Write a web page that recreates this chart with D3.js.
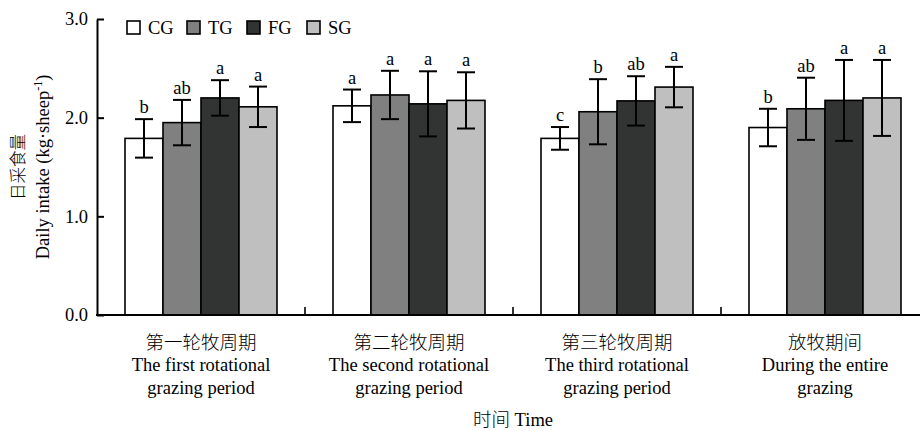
<!DOCTYPE html>
<html lang="zh">
<head>
<meta charset="UTF-8">
<title>日采食量</title>
<script src="https://cdn.jsdelivr.net/npm/d3@7/dist/d3.min.js"></script>
<style>
    body { margin: 0; background: #fff; }
    svg text { font-family: "Liberation Serif", "Noto Sans CJK SC", serif; fill: #000; }
</style>
</head>
<body>
<svg id="chart" width="920" height="431"></svg>
<script>
// data
var groups = ["第一轮牧周期", "第二轮牧周期", "第三轮牧周期", "放牧期间"];
var groupEn = [
    ["The first rotational", "grazing period"],
    ["The second rotational", "grazing period"],
    ["The third rotational", "grazing period"],
    ["During the entire", "grazing"]
];
var series = ["CG", "TG", "FG", "SG"];
var colors = ["#ffffff", "#808080", "#323434", "#bfbfbf"];

// mean per series, one value per group
var CG = [1.79, 2.12, 1.79, 1.90];
var TG = [1.95, 2.23, 2.06, 2.09];
var FG = [2.20, 2.14, 2.17, 2.175];
var SG = [2.11, 2.175, 2.31, 2.20];
// error (sd)
var CGerr = [0.195, 0.165, 0.115, 0.19];
var TGerr = [0.23, 0.245, 0.33, 0.315];
var FGerr = [0.18, 0.33, 0.25, 0.41];
var SGerr = [0.205, 0.285, 0.205, 0.385];
// significance letters
var CGsig = ["b", "a", "c", "b"];
var TGsig = ["ab", "a", "b", "ab"];
var FGsig = ["a", "a", "ab", "a"];
var SGsig = ["a", "a", "a", "a"];

var yTicks = [0, 1, 2, 3];

var means = [CG, TG, FG, SG];
var errs = [CGerr, TGerr, FGerr, SGerr];
var sigs = [CGsig, TGsig, FGsig, SGsig];

var rows = [];
groups.forEach(function (g, gi) {
    series.forEach(function (s, si) {
        rows.push({ group: g, series: s, color: colors[si],
            v: means[si][gi], e: errs[si][gi], sig: sigs[si][gi] });
    });
});

var svg = d3.select("#chart");
// note: "top" is taken by window.top, so plot edges get their own names
var mLeft = 97, mRight = 929, mTop = 19, mBottom = 315;
var fs = "18.5px";

var y = d3.scaleLinear().domain([0, 3]).range([mBottom, mTop]);
var x0 = d3.scaleBand().domain(groups).range([mLeft, mRight]);
var x1 = d3.scaleBand().domain(series).range([0, x0.bandwidth()])
    .paddingInner(0).paddingOuter(0.737);

// bars
var g = svg.append("g");
g.selectAll("rect.bar").data(rows).enter().append("rect")
    .attr("class", "bar")
    .attr("x", function (d) { return x0(d.group) + x1(d.series); })
    .attr("y", function (d) { return y(d.v); })
    .attr("width", x1.bandwidth())
    .attr("height", function (d) { return y(0) - y(d.v); })
    .attr("fill", function (d) { return d.color; })
    .attr("stroke", "#000")
    .attr("stroke-width", 1.6);

// error bars
var cap = 9;
var eb = g.selectAll("g.err").data(rows).enter().append("g")
    .attr("class", "err")
    .attr("transform", function (d) {
        return "translate(" + (x0(d.group) + x1(d.series) + x1.bandwidth() / 2) + ",0)";
    })
    .attr("stroke", "#000").attr("stroke-width", 2);
eb.append("line").attr("x1", 0).attr("x2", 0)
    .attr("y1", function (d) { return y(d.v + d.e); })
    .attr("y2", function (d) { return y(d.v - d.e); });
eb.append("line").attr("x1", -cap).attr("x2", cap)
    .attr("y1", function (d) { return y(d.v + d.e); })
    .attr("y2", function (d) { return y(d.v + d.e); });
eb.append("line").attr("x1", -cap).attr("x2", cap)
    .attr("y1", function (d) { return y(d.v - d.e); })
    .attr("y2", function (d) { return y(d.v - d.e); });

// letters
g.selectAll("text.sig").data(rows).enter().append("text")
    .attr("class", "sig")
    .attr("x", function (d) { return x0(d.group) + x1(d.series) + x1.bandwidth() / 2; })
    .attr("y", function (d) { return y(d.v + d.e) - 6; })
    .attr("text-anchor", "middle")
    .style("font-size", fs)
    .text(function (d) { return d.sig; });

// y axis
var yAxis = d3.axisLeft(y).tickValues(yTicks).tickFormat(d3.format(".1f"))
    .tickSizeInner(-7).tickSizeOuter(0).tickPadding(9);
var ya = svg.append("g").attr("transform", "translate(" + mLeft + ",0)").call(yAxis);
ya.select(".domain").attr("stroke-width", 2);
ya.selectAll(".tick line").attr("stroke-width", 2);
ya.selectAll(".tick text").style("font-size", fs)
    .style("font-family", "'Liberation Serif', serif");

// x axis line + boundary ticks
svg.append("line").attr("x1", mLeft - 1).attr("x2", 920)
    .attr("y1", mBottom).attr("y2", mBottom)
    .attr("stroke", "#000").attr("stroke-width", 2);
svg.selectAll("line.xtick").data(groups.slice(1)).enter().append("line")
    .attr("class", "xtick")
    .attr("x1", function (d) { return x0(d); }).attr("x2", function (d) { return x0(d); })
    .attr("y1", mBottom).attr("y2", mBottom - 8)
    .attr("stroke", "#000").attr("stroke-width", 1.6);

// category labels
var lab = svg.selectAll("text.cat").data(groups).enter().append("text")
    .attr("class", "cat")
    .attr("text-anchor", "middle")
    .attr("transform", function (d) { return "translate(" + (x0(d) + x0.bandwidth() / 2) + ",0)"; })
    .style("font-size", fs);
lab.append("tspan").attr("x", 0).attr("y", 349)
    .style("font-family", "'Noto Sans CJK SC', sans-serif").style("font-size", "18.5px")
    .style("font-weight", 300)
    .text(function (d) { return d; });
lab.each(function (d, i) {
    var t = d3.select(this);
    groupEn[i].forEach(function (line, k) {
        t.append("tspan").attr("x", 0).attr("y", 371 + k * 23).text(line);
    });
});

// axis titles
svg.append("text").attr("x", (mLeft + mRight) / 2).attr("y", 426)
    .attr("text-anchor", "middle").style("font-size", fs)
    .html("<tspan style=\"font-family:'Noto Sans CJK SC';font-weight:300\">时间</tspan> Time");

var yt = svg.append("g").attr("transform", "translate(0," + ((mTop + mBottom) / 2) + ") rotate(-90)");
yt.append("text").attr("x", 0).attr("y", 24).attr("text-anchor", "middle")
    .style("font-family", "'Noto Sans CJK SC', sans-serif").style("font-weight", 300)
    .style("font-size", "16.5px").text("日采食量");
var yt2 = yt.append("text").attr("x", 0).attr("y", 49).attr("text-anchor", "middle")
    .style("font-size", fs);
yt2.append("tspan").text("Daily intake (kg·sheep");
yt2.append("tspan").attr("dy", -7).style("font-size", "12px").text("-1");
yt2.append("tspan").attr("dy", 7).text(")");

// legend
var leg = svg.selectAll("g.leg").data(series).enter().append("g")
    .attr("class", "leg")
    .attr("transform", function (d, i) { return "translate(" + (127 + i * 60) + ",21)"; });
leg.append("rect").attr("width", 13).attr("height", 13)
    .attr("fill", function (d, i) { return colors[i]; })
    .attr("stroke", "#000").attr("stroke-width", 1.6);
leg.append("text").attr("x", 21).attr("y", 13)
    .style("font-size", fs).text(function (d) { return d; });
</script>
</body>
</html>
